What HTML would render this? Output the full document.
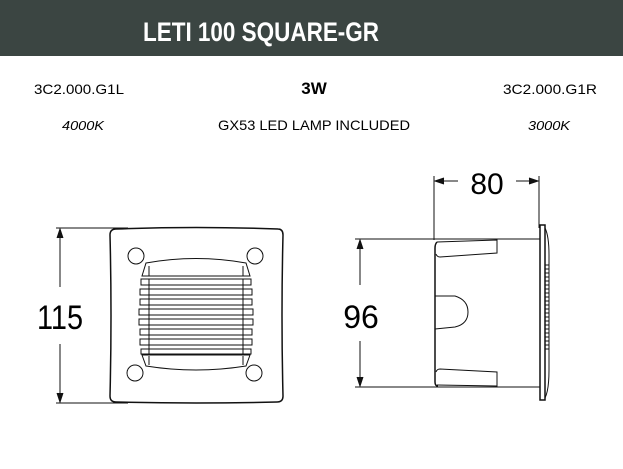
<!DOCTYPE html>
<html><head><style>html,body{margin:0;padding:0;background:#fff;width:623px;height:469px;overflow:hidden}</style></head>
<body>
<svg width="623" height="469" viewBox="0 0 623 469" xmlns="http://www.w3.org/2000/svg" font-family="Liberation Sans, sans-serif">
<rect x="0" y="0" width="623" height="56" fill="#3b4542"/>
<text x="261" y="41" font-size="27" font-weight="bold" fill="#fff" text-anchor="middle" textLength="236" lengthAdjust="spacingAndGlyphs">LETI 100 SQUARE-GR</text>
<text x="79" y="94" font-size="14" text-anchor="middle" textLength="90" lengthAdjust="spacingAndGlyphs">3C2.000.G1L</text>
<text x="314" y="94" font-size="17" font-weight="bold" text-anchor="middle">3W</text>
<text x="550" y="94" font-size="14" text-anchor="middle" textLength="94" lengthAdjust="spacingAndGlyphs">3C2.000.G1R</text>
<text x="83" y="130" font-size="13" font-style="italic" text-anchor="middle" textLength="42" lengthAdjust="spacingAndGlyphs">4000K</text>
<text x="314" y="130" font-size="14" text-anchor="middle" textLength="192" lengthAdjust="spacingAndGlyphs">GX53 LED LAMP INCLUDED</text>
<text x="549" y="130" font-size="13" font-style="italic" text-anchor="middle" textLength="42" lengthAdjust="spacingAndGlyphs">3000K</text>
<g stroke="#111" fill="none" stroke-width="1">
<!-- front dim -->
<line x1="56" y1="228" x2="128" y2="228"/><line x1="56" y1="403" x2="128" y2="403"/>
<line x1="60" y1="229" x2="60" y2="287"/><line x1="60" y1="344" x2="60" y2="402"/>
<path d="M57,238 L60,229 L63,238 M57,393 L60,402 L63,393" fill="#111"/>
<!-- front body -->
<path d="M116,229 Q196,226 278,229 Q283,229 283,235 Q281,315 283,396 Q283,402 277,402 Q196,404 116,402 Q110,402 110,396 Q112,315 110,235 Q110,229 116,229 Z" stroke-width="1.5"/>
<circle cx="136" cy="256" r="8"/><circle cx="255" cy="256" r="8"/>
<circle cx="135" cy="373" r="8"/><circle cx="254" cy="373" r="8"/>
<path d="M146,263 Q196,254 246,263 L250,276 L142,276 Z"/>
<line x1="149" y1="266" x2="149" y2="276"/><line x1="243" y1="266" x2="243" y2="276"/>
<path d="M146,366 Q196,374 246,366 L250,355 L142,355 Z"/>
<line x1="149" y1="356" x2="149" y2="365"/><line x1="243" y1="356" x2="243" y2="365"/>
<g>
<rect x="141" y="279" width="110" height="6"/><rect x="140" y="289" width="112" height="6"/>
<rect x="140" y="299" width="112" height="6"/><rect x="139" y="309" width="114" height="6"/>
<rect x="139" y="319" width="114" height="6"/><rect x="140" y="329" width="112" height="6"/>
<rect x="140" y="339" width="112" height="6"/><rect x="141" y="349" width="110" height="5"/>
<line x1="149" y1="279" x2="149" y2="354"/><line x1="243" y1="279" x2="243" y2="354"/>
</g>
<!-- side dims -->
<line x1="434" y1="176" x2="434" y2="240"/><line x1="539" y1="176" x2="539" y2="228"/>
<line x1="435" y1="181" x2="458" y2="181"/><line x1="516" y1="181" x2="538" y2="181"/>
<path d="M444,178 L435,181 L444,184 M529,178 L538,181 L529,184" fill="#111"/>
<line x1="355" y1="239" x2="540" y2="239"/><line x1="355" y1="387" x2="540" y2="387"/>
<line x1="360" y1="240" x2="360" y2="285"/><line x1="360" y1="341" x2="360" y2="386"/>
<path d="M357,249 L360,240 L363,249 M357,377 L360,386 L363,377" fill="#111"/>
<!-- side body -->
<path d="M437,242 Q435,244 435,248 L435,382 Q435,386 438,386" stroke-width="1.5"/>
<path d="M437,242 L497,240 L497,253 L440,257 Q437,257 436,254"/>
<path d="M437,385 L497,386 L497,372 L440,369 Q437,369 436,372"/>
<path d="M435,296 L455,296 Q468,300 468,312 Q468,324 455,327 L435,329"/>
<rect x="540" y="225" width="5" height="175" stroke-width="1.5"/>
<path d="M545,228 Q549,236 549,255 L549,370 Q549,390 545,398"/>
<path d="M545,265 h4 v4 h-4 v4 h4 v4 h-4 v4 h4 v4 h-4 v4 h4 v4 h-4 v4 h4 v4 h-4 v4 h4 v4 h-4 v4 h4 v4 h-4 v4 h4 v4 h-4 v4 h4 v4 h-4 v4 h4 v4 h-4 v4 h4 v4 h-4"/>
</g>
<text x="60" y="329" font-size="34" text-anchor="middle" textLength="46" lengthAdjust="spacingAndGlyphs">115</text>
<text x="361" y="328" font-size="32" text-anchor="middle">96</text>
<text x="487" y="194" font-size="30" text-anchor="middle">80</text>
</svg>
</body></html>
